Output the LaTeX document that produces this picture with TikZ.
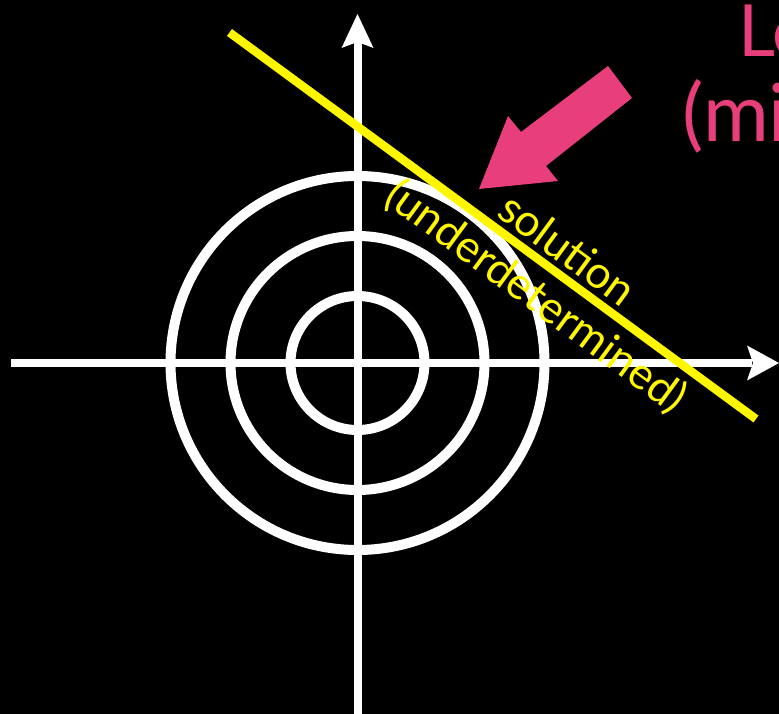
\documentclass[tikz,border=0pt]{standalone}
\usepackage{fontspec}
\setmainfont{Lato}
\definecolor{pinkc}{RGB}{232,62,124}
\definecolor{yel}{RGB}{255,247,0}
\begin{document}
\begin{tikzpicture}[x=1pt,y=-1pt,
  ax/.style={white,line width=8pt},
  ring/.style={white,line width=10pt},
  ytext/.style={yel,rotate=-36.3,inner sep=0pt,font=\fontsize{44.5}{48}\selectfont},
  ptext/.style={pinkc,anchor=base west,inner sep=0pt}]
\useasboundingbox (0,0) rectangle (779,714);
\clip (0,0) rectangle (779,714);
\fill[black] (0,0) rectangle (779,714);
% circles
\coordinate (o) at (357.5,363);
\draw[ring] (o) circle[radius=67];
\draw[ring] (o) circle[radius=127];
\draw[ring] (o) circle[radius=187];
% axes
\coordinate (yb) at (357.5,714);
\coordinate (yt) at (357.5,14);
\coordinate (xl) at (11,363);
\coordinate (xr) at (779,363);
\draw[ax] (yb) -- (357.5,42);
\fill[white] (yt) -- (341.5,48) -- (357.5,42) -- (373.5,48) -- cycle;
\draw[ax] (xl) -- (752,363);
\fill[white] (xr) -- (747,345.5) -- (753,363) -- (747,380.5) -- cycle;
% yellow solution line
\coordinate (l1) at (229.5,32.5);
\coordinate (l2) at (756,419);
\draw[yel,line width=8.5pt] (l1) -- (l2);
\node[ytext] (sol) at (568,249) {solution};
\node[ytext] (und) at (536,297) {(underdetermined)};
% pink arrow
\fill[pinkc] (479,189) -- (508,116) -- (521,132) -- (608,66) -- (632,98) -- (546,166) -- (558,181) -- cycle;
% pink title (cut off)
\node[ptext,font=\fontsize{72}{80}\selectfont] (t1) at (738,57) {Le};
\node[ptext,font=\fontsize{80}{88}\selectfont] (t2) at (682,142) {(mi};
\end{tikzpicture}
\end{document}
